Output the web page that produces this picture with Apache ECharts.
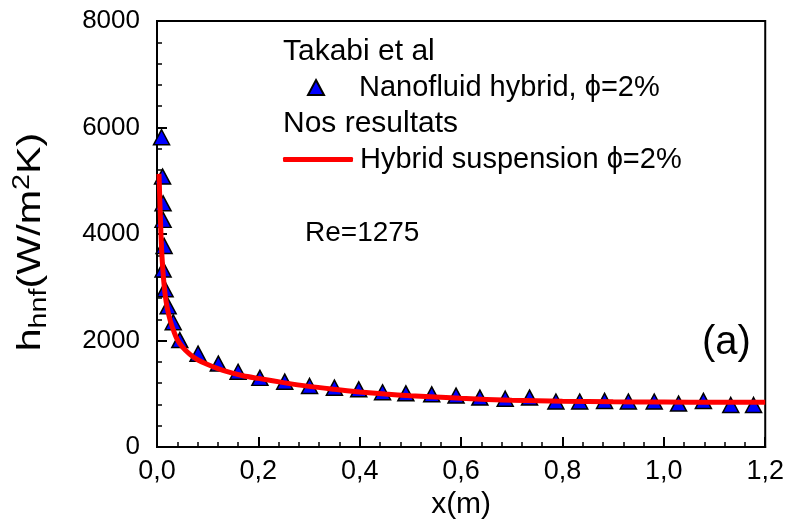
<!DOCTYPE html>
<html>
<head>
<meta charset="utf-8">
<script src="https://cdn.jsdelivr.net/npm/echarts@6/dist/echarts.min.js"></script>
<style>html,body{margin:0;padding:0;background:#fff}#c{width:787px;height:525px}</style>
</head>
<body>
<div id="c"></div>
<script>
// Takabi et al — nanofluid hybrid, phi = 2% (triangles)
const takabiX = [0.009, 0.011, 0.012, 0.012, 0.014, 0.012, 0.016, 0.022, 0.032, 0.045, 0.081, 0.121, 0.160, 0.203, 0.252, 0.301, 0.350, 0.398, 0.445, 0.491, 0.542, 0.590, 0.637, 0.687, 0.735, 0.787, 0.834, 0.883, 0.930, 0.981, 1.029, 1.078, 1.132, 1.177];
const takabiH = [5818, 5079, 4577, 4266, 3777, 3336, 2964, 2642, 2344, 2009, 1754, 1568, 1414, 1300, 1228, 1148, 1116, 1085, 1029, 1010, 991, 967, 930, 908, 930, 856, 856, 867, 856, 856, 817, 867, 791, 791];
// Nos resultats — hybrid suspension, phi = 2% (red line)
const oursX = [0.004, 0.006, 0.008, 0.010, 0.013, 0.016, 0.020, 0.026, 0.033, 0.040, 0.050, 0.065, 0.080, 0.100, 0.130, 0.170, 0.200, 0.250, 0.300, 0.350, 0.400, 0.450, 0.500, 0.600, 0.700, 0.800, 0.900, 1.000, 1.100, 1.200];
const oursH = [5130, 4500, 3950, 3550, 3150, 2870, 2620, 2380, 2180, 2020, 1880, 1740, 1640, 1550, 1440, 1340, 1290, 1210, 1140, 1085, 1035, 995, 965, 915, 880, 862, 852, 846, 842, 840];

const seriesNames = ['Nanofluid hybrid, \u03D5=2%', 'Hybrid suspension \u03D5=2%'];
const FONT = "'Liberation Sans', Arial, sans-serif";

const chart = echarts.init(document.getElementById('c'), null, {renderer: 'canvas'});
const zip = (xs, ys) => xs.map((x, i) => [x, ys[i]]);

chart.setOption({
  backgroundColor: '#fff',
  animation: false,
  grid: {left: 157, right: 20, top: 21, bottom: 74, show: true, borderColor: '#000', borderWidth: 2, backgroundColor: 'transparent'},
  xAxis: {
    type: 'value', min: 0, max: 1.2, interval: 0.2,
    name: 'x(m)', nameLocation: 'middle', nameGap: 42,
    nameTextStyle: {fontSize: 30, fontFamily: FONT, color: '#000'},
    axisLine: {lineStyle: {color: '#000', width: 2}},
    axisTick: {show: true, inside: true, length: 10, lineStyle: {color: '#000', width: 2}},
    minorTick: {show: true, splitNumber: 5, length: 5, lineStyle: {color: '#000', width: 1.5}},
    splitLine: {show: false},
    axisLabel: {fontSize: 27, fontFamily: FONT, color: '#000', margin: 11,
      formatter: v => v.toFixed(1).replace('.', ',')}
  },
  yAxis: {
    type: 'value', min: 0, max: 8000, interval: 2000,
    axisLine: {lineStyle: {color: '#000', width: 2}},
    axisTick: {show: true, inside: true, length: 10, lineStyle: {color: '#000', width: 2}},
    minorTick: {show: true, splitNumber: 5, length: 5, lineStyle: {color: '#000', width: 1.5}},
    splitLine: {show: false},
    axisLabel: {fontSize: 26, fontFamily: FONT, color: '#000', margin: 17, formatter: v => String(v)}
  },
  legend: [
    {data: [seriesNames[0]], left: 307, top: 73, padding: 0, icon: 'triangle', itemWidth: 16, itemHeight: 15,
     textStyle: {fontSize: 29, fontFamily: FONT, color: '#000', padding: [0, 0, 0, 30]}},
    {data: [seriesNames[1]], left: 283, top: 145, padding: 0, icon: 'roundRect', itemWidth: 70, itemHeight: 5,
     itemStyle: {color: '#ff0000', borderWidth: 0},
     textStyle: {fontSize: 29, fontFamily: FONT, color: '#000', padding: [0, 0, 0, 2]}}
  ],
  graphic: [
    {type: 'text', x: 31, y: 242, rotation: Math.PI / 2, scaleX: 1.25,
     style: {text: '{a|h}{b|hnf}{a|(W/m}{c|2}{a|K)}', align: 'center', verticalAlign: 'middle',
       fontSize: 33, fontFamily: FONT, fill: '#000',
       rich: {
         a: {fontSize: 33, fontFamily: FONT, fill: '#000', lineHeight: 40},
         b: {fontSize: 23, fontFamily: FONT, fill: '#000', lineHeight: 23, verticalAlign: 'bottom'},
         c: {fontSize: 23, fontFamily: FONT, fill: '#000', lineHeight: 23, verticalAlign: 'top'}
       }}},
    {type: 'text', x: 283, y: 52, style: {text: 'Takabi et al', fontSize: 30, fontFamily: FONT, fill: '#000', verticalAlign: 'middle'}},
    {type: 'text', x: 283, y: 124, style: {text: 'Nos resultats', fontSize: 30, fontFamily: FONT, fill: '#000', verticalAlign: 'middle'}},
    {type: 'text', x: 305, y: 233, style: {text: 'Re=1275', fontSize: 28, fontFamily: FONT, fill: '#000', verticalAlign: 'middle'}},
    {type: 'text', x: 702, y: 343, style: {text: '(a)', fontSize: 40, fontFamily: FONT, fill: '#000', verticalAlign: 'middle'}}
  ],
  series: [
    {name: seriesNames[0], type: 'scatter', data: zip(takabiX, takabiH), symbol: 'triangle', symbolSize: [16, 15],
     clip: false, z: 2,
     itemStyle: {color: '#0000ff', borderColor: '#000', borderWidth: 1.5, opacity: 1}},
    {name: seriesNames[1], type: 'line', data: zip(oursX, oursH), symbol: 'none', smooth: 0.3, z: 3,
     lineStyle: {color: '#ff0000', width: 5}, itemStyle: {color: '#ff0000'}}
  ]
});
</script>
</body>
</html>
